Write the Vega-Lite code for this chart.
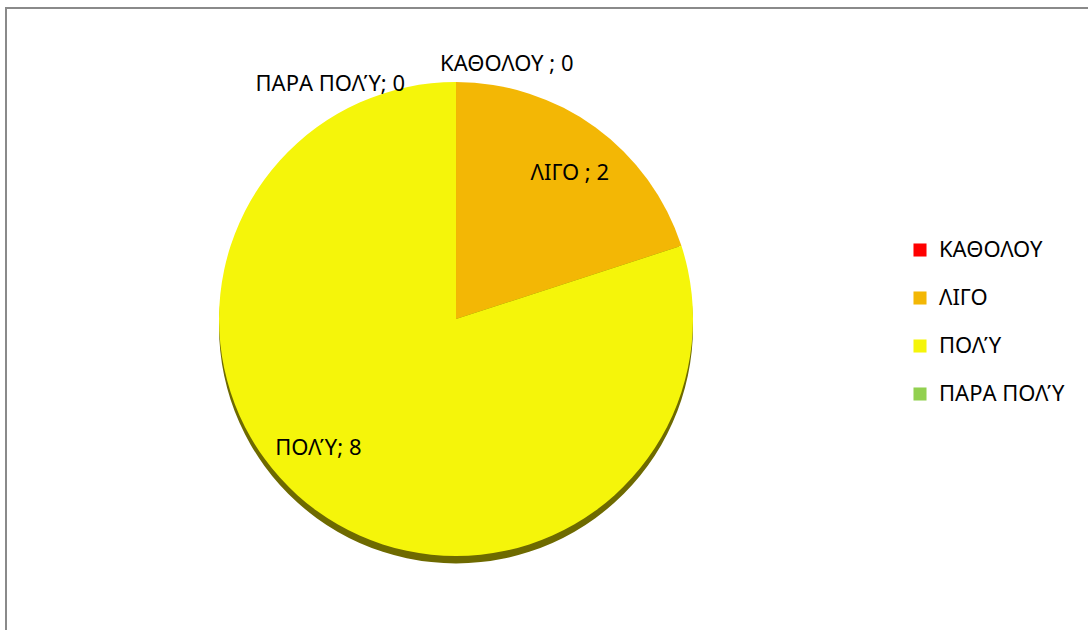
{
  "$schema": "https://vega.github.io/schema/vega-lite/v6.json",
  "autosize": "none",
  "padding": {"left": 6, "top": 8, "right": 0, "bottom": 0},
  "width": 1100,
  "height": 640,
  "background": "white",
  "config": {
    "view": {"stroke": "#8a8a8a", "strokeWidth": 2},
    "font": "Noto Sans"
  },
  "data": {
    "values": [
      {"cat": "ΚΑΘΟΛΟΥ", "value": 0, "idx": 1, "label": "ΚΑΘΟΛΟΥ ; 0"},
      {"cat": "ΛΙΓΟ", "value": 2, "idx": 2, "label": "ΛΙΓΟ ; 2"},
      {"cat": "ΠΟΛΎ", "value": 8, "idx": 3, "label": "ΠΟΛΎ; 8"},
      {"cat": "ΠΑΡΑ ΠΟΛΎ", "value": 0, "idx": 4, "label": "ΠΑΡΑ ΠΟΛΎ; 0"}
    ]
  },
  "encoding": {
    "theta": {"field": "value", "type": "quantitative", "stack": true},
    "order": {"field": "idx", "type": "quantitative"},
    "x": {"datum": 0.4091, "type": "quantitative", "scale": {"domain": [0, 1]}, "axis": null},
    "y": {"datum": 0.486, "type": "quantitative", "scale": {"domain": [1, 0]}, "axis": null}
  },
  "layer": [
    {
      "mark": {"type": "arc", "outerRadius": 237, "color": "#6e6a00"},
      "encoding": {
        "y": {"datum": 0.4975, "type": "quantitative", "scale": {"domain": [1, 0]}, "axis": null}
      }
    },
    {
      "mark": {"type": "arc", "outerRadius": 237},
      "encoding": {
        "color": {
          "field": "cat",
          "type": "nominal",
          "sort": ["ΚΑΘΟΛΟΥ", "ΛΙΓΟ", "ΠΟΛΎ", "ΠΑΡΑ ΠΟΛΎ"],
          "scale": {
            "domain": ["ΚΑΘΟΛΟΥ", "ΛΙΓΟ", "ΠΟΛΎ", "ΠΑΡΑ ΠΟΛΎ"],
            "range": ["#ff0000", "#f3b705", "#f5f50a", "#92d050"]
          },
          "legend": {
            "title": null,
            "orient": "none",
            "legendX": 903,
            "legendY": 231,
            "symbolType": "square",
            "symbolSize": 170,
            "symbolStrokeWidth": 0,
            "labelFontSize": 22,
            "labelFont": "Noto Sans",
            "labelColor": "#000000",
            "labelOffset": 8,
            "rowPadding": 26,
            "padding": 0
          }
        }
      }
    },
    {
      "mark": {"type": "text", "radius": 255, "align": "left", "dx": -16, "fontSize": 22, "color": "#000000"},
      "encoding": {
        "text": {"condition": {"test": "datum.cat === 'ΚΑΘΟΛΟΥ'", "field": "label"}, "value": ""}
      }
    },
    {
      "mark": {"type": "text", "radius": 235, "align": "right", "dx": -51, "fontSize": 22, "color": "#000000"},
      "encoding": {
        "text": {"condition": {"test": "datum.cat === 'ΠΑΡΑ ΠΟΛΎ'", "field": "label"}, "value": ""}
      }
    },
    {
      "mark": {"type": "text", "radius": 180, "dx": 8, "fontSize": 22, "color": "#000000"},
      "encoding": {
        "text": {"condition": {"test": "datum.cat === 'ΛΙΓΟ'", "field": "label"}, "value": ""}
      }
    },
    {
      "mark": {"type": "text", "radius": 190, "dx": -26, "dy": -25, "fontSize": 22, "color": "#000000"},
      "encoding": {
        "text": {"condition": {"test": "datum.cat === 'ΠΟΛΎ'", "field": "label"}, "value": ""}
      }
    }
  ]
}
